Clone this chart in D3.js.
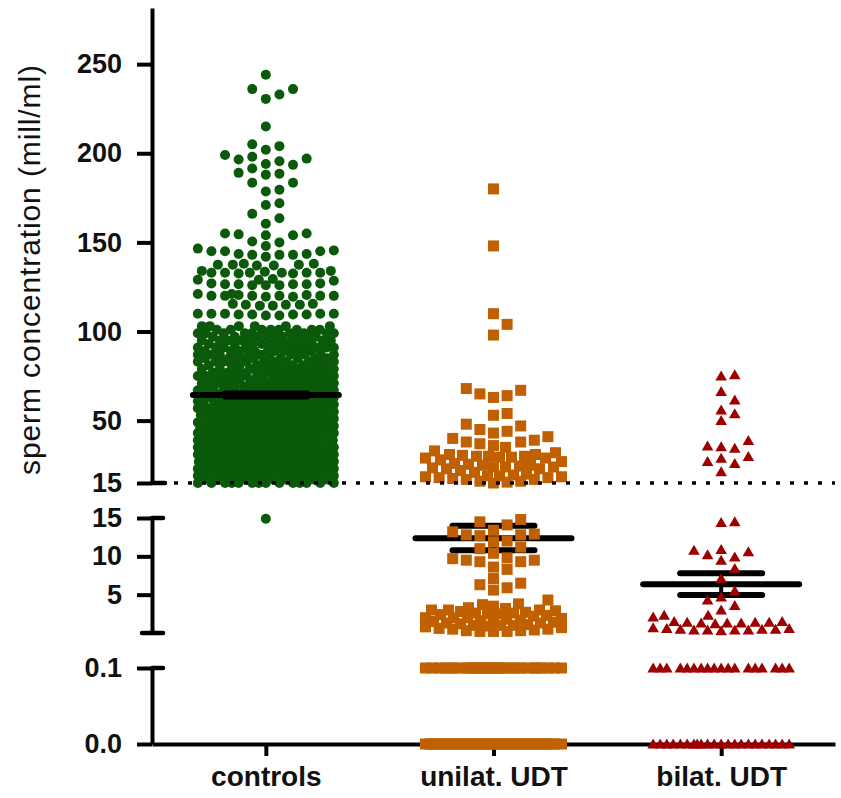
<!DOCTYPE html>
<html>
<head>
<meta charset="utf-8">
<script src="https://cdn.jsdelivr.net/npm/d3@7"></script>
<style>
  body { margin: 0; background: #fff; }
  svg { display: block; }
</style>
</head>
<body>
<svg id="chart" width="841" height="798"></svg>
<script>
var categories = ["controls", "unilat. UDT", "bilat. UDT"];
var colors = ["#0b5a0b", "#c06000", "#9e0000"];

var upperTicks = [15, 50, 100, 150, 200, 250];
var middleTicks = [5, 10, 15];
var lowerTicks = [0, 0.1];

// controls: single points in the sparse part
var controlsSparse = [244, 236, 236, 233, 230.5, 215, 205, 204, 202, 199, 198, 197, 196.5, 195.5,
  194, 193.5, 191.5, 189, 188.5, 188, 183.5, 183.5, 179.5, 178.5, 172, 171, 166, 163.5, 160.5,
  155, 155, 154.5, 154, 154, 150.5, 150, 148,
  146.5, 145.5, 145, 145, 145, 143.5, 143.5, 143, 143, 143, 142,
  138, 138, 137.5, 137.5, 137.5, 137, 137,
  134, 134, 133.5, 133, 133, 133, 133, 133, 133, 132.5, 132.5,
  129.5, 129, 129, 128.5,
  127, 127, 126.5, 126.5, 126.5, 126.5, 126, 126, 126,
  121, 121, 120.5, 120.5, 120, 120, 120, 120, 120, 120, 119.5, 119.5,
  115.5, 115.5, 115, 115, 115, 114.5, 114.5,
  110, 110, 110, 110, 110, 109.5, 109.5, 109.5, 109.5, 109, 109];
// controls: dense part, [value, count]
var controlsDense = [[15, 14], [17, 13], [19, 14], [21, 14], [23, 13], [25, 14], [27, 14], [29, 13],
  [31, 14], [33, 14], [35, 13], [37, 14], [39, 14], [41, 13], [43, 14], [45, 14], [47, 13], [49, 14],
  [51, 14], [53, 13], [55, 14], [57, 14], [59, 13], [61, 14], [63, 14],
  [65, 13], [67, 12], [69, 12], [71, 12], [73, 11], [75, 11], [77, 11], [79, 10], [81, 10], [83, 10],
  [85, 10], [87, 9], [89, 9], [91, 9], [93, 9], [95, 9], [97, 9], [99, 9], [101, 8], [103, 6]];
var controlsMiddle = [14.9];

var unilatUpper = [180, 148, 110, 104, 98, 68, 67, 65, 64, 63, 54, 53, 48, 47, 45, 44, 43, 41,
  40, 39, 38, 38, 37, 36, 35, 33, 32, 31, 31, 30.5, 30, 30, 30, 29.5, 29.5, 29, 29, 28, 27, 26,
  25.5, 25, 25, 24.5, 24, 24, 24, 23.5, 23, 23, 22, 21, 20, 19.5, 19, 19, 18.5, 18.5, 18, 18,
  17.5, 17, 17, 16, 16, 15.5, 15];
var unilatMiddle = [14.8, 14.5, 14.1, 13.4, 13.2, 12.9, 12.8, 12.8, 12.7, 12, 11.9, 11.2, 11,
  10.4, 9.8, 9.7, 9.5, 9.5, 9.3, 9.3, 8.6, 8.3, 7.1, 6.5, 6.3, 5.9, 5.6, 4.3,
  3.8, 3.7, 3.5, 3.3, 3.2, 3, 3, 3, 2.9, 2.8, 2.7, 2.6, 2.6, 2.5, 2.5, 2.4, 2.3, 2.2, 2, 2, 2,
  1.9, 1.8, 1.7, 1.6, 1.5, 1.5, 1.4, 1.3, 1.3, 1.2, 1.1, 1, 1, 1, 0.9, 0.8, 0.7, 0.6, 0.5, 0.5,
  0.4, 0.3, 0.3, 0.2, 0.2, 0.2];

var bilatUpper = [75.7, 75.1, 66.3, 61.6, 56, 53.8, 50, 38.8, 35.8, 35.4, 34.5, 29.8, 28.9, 27, 26, 21.3];
var bilatMiddle = [14.5, 14.4, 10.9, 10.8, 10.6, 10.2, 9.9, 9.5, 8.4, 7.1, 5.5, 4.7, 4.3, 3.6, 3.0,
  2.3, 2.3, 2.1, 1.5, 1.5, 1.4, 1.4, 1.4, 1.3, 1.3, 1.3, 1.2,
  0.7, 0.6, 0.6, 0.5, 0.5, 0.5, 0.4, 0.4, 0.4, 0.4, 0.3];

// number of samples at 0.1 and at 0.0, per group
var tenthCounts = [0, 30, 18];
var zeroCounts = [0, 40, 22];

// mean and SEM per group
var means = [64.4, 12.35, 6.35];
var semHigh = [65.2, 14.0, 7.8];
var semLow = [63.6, 10.8, 4.95];

var svg = d3.select("#chart");
var font = "'Liberation Sans', Arial, sans-serif";
var axisX = 152;

var x = d3.scalePoint().domain(categories).range([152, 835]).padding(0.5);
var yUpper = d3.scaleLinear().domain([15, 281.5]).range([483, 8]);
var yMiddle = d3.scaleLinear().domain([0, 15]).range([633, 518]);
var yLower = d3.scaleLinear().domain([0, 0.1]).range([744, 668]);

function yOf(v) {
  if (v >= 15) return yUpper(v);
  if (v > 0.1) return yMiddle(v);
  return yLower(v);
}

function expand(pairs) {
  var out = [];
  pairs.forEach(function (p) {
    for (var i = 0; i < p[1]; i++) out.push(p[0]);
  });
  return out;
}
function repeat(v, n) {
  var out = [];
  for (var i = 0; i < n; i++) out.push(v);
  return out;
}

var groupValues = [
  controlsSparse.concat(expand(controlsDense), controlsMiddle),
  unilatUpper.concat(unilatMiddle, repeat(0.1, tenthCounts[1]), repeat(0, zeroCounts[1])),
  bilatUpper.concat(bilatMiddle, repeat(0.1, tenthCounts[2]), repeat(0, zeroCounts[2]))
];

// column scatter: points go on a grid of columns, centre first;
// when every column is taken, squeeze into the widest gap
function swarm(values, cx, step, d) {
  var pts = values.map(function (v) { return { v: v, y: yOf(v) }; });
  pts.sort(function (a, b) { return b.y - a.y; });
  var cols = [0];
  for (var k = 1; k <= 5; k++) cols.push(k, -k);
  var maxOff = 5 * step;
  var placed = [];
  pts.forEach(function (p) {
    var near = [];
    for (var j = placed.length - 1; j >= 0; j--) {
      if (Math.abs(placed[j].y - p.y) < 2 * d) near.push(placed[j]);
    }
    var off = null;
    for (var i = 0; i < cols.length; i++) {
      var ox = cols[i] * step;
      var ok = near.every(function (q) {
        var dx = q.off - ox, dy = q.y - p.y;
        return dx * dx + dy * dy >= d * d;
      });
      if (ok) { off = ox; break; }
    }
    if (off === null) {
      var best = -1;
      off = 0;
      for (var ox2 = -maxOff; ox2 <= maxOff; ox2 += 1) {
        var m = Infinity;
        near.forEach(function (q) {
          var dx = q.off - ox2, dy = q.y - p.y;
          m = Math.min(m, dx * dx + dy * dy);
        });
        if (m > best + 1e-6 || (Math.abs(m - best) < 1e-6 && Math.abs(ox2) < Math.abs(off))) {
          best = m;
          off = ox2;
        }
      }
    }
    p.off = off;
    p.x = cx + off;
    placed.push(p);
  });
  return placed;
}

function drawMeans(i) {
  var cx = x(categories[i]);
  var g = svg.append("g").attr("stroke", "#000").attr("stroke-linecap", "round");
  g.append("line")
    .attr("x1", cx).attr("x2", cx)
    .attr("y1", yOf(semHigh[i])).attr("y2", yOf(semLow[i]))
    .attr("stroke-width", 4);
  [semHigh[i], semLow[i]].forEach(function (v) {
    g.append("line")
      .attr("x1", cx - 41).attr("x2", cx + 41)
      .attr("y1", yOf(v)).attr("y2", yOf(v))
      .attr("stroke-width", 6);
  });
  g.append("line")
    .attr("x1", cx - (i == 0 ? 73 : 78)).attr("x2", cx + (i == 0 ? 73 : 78))
    .attr("y1", yOf(means[i])).attr("y2", yOf(means[i]))
    .attr("stroke-width", 6);
}

// y axis, three pieces
function drawAxis(scale, ticks, fmt) {
  var g = svg.append("g")
    .attr("transform", "translate(" + axisX + ",0)")
    .call(d3.axisLeft(scale).tickValues(ticks).tickFormat(fmt)
      .tickSize(15).tickSizeOuter(0).tickPadding(15));
  g.attr("font-family", font).attr("font-size", 27).attr("font-weight", "bold");
  g.select(".domain").attr("stroke-width", 4);
  g.selectAll(".tick line").attr("stroke-width", 4);
  g.selectAll(".tick text").attr("fill", "#111");
  return g;
}
drawAxis(yUpper, upperTicks, d3.format("d"));
drawAxis(yMiddle, middleTicks, d3.format("d"));
drawAxis(yLower, lowerTicks, d3.format(".1f"));

// caps at the break ends
var caps = [[yUpper(15), 152, 165], [yMiddle(15), 152, 163], [yLower(0.1), 152, 163], [yMiddle(0), 142, 163]];
caps.forEach(function (c) {
  svg.append("line")
    .attr("x1", c[1]).attr("x2", c[2])
    .attr("y1", c[0]).attr("y2", c[0])
    .attr("stroke", "#000")
    .attr("stroke-width", 4.5)
    .attr("stroke-linecap", "round");
});

// x axis (under the points)
var gx = svg.append("g")
  .attr("transform", "translate(0," + yLower(0) + ")")
  .call(d3.axisBottom(x).tickSize(12).tickSizeOuter(0).tickPadding(10));
gx.attr("font-family", font).attr("font-size", 28).attr("font-weight", "bold");
gx.select(".domain").attr("stroke-width", 4);
gx.selectAll(".tick line").attr("stroke-width", 4);
gx.selectAll(".tick text").attr("fill", "#111");

// controls: circles, mean drawn on top
var ctl = swarm(groupValues[0], x(categories[0]), 13.6, 10.5);
svg.append("g").selectAll("circle")
  .data(ctl)
  .join("circle")
  .attr("cx", function (d) { return d.x; })
  .attr("cy", function (d) { return d.y; })
  .attr("r", 5)
  .attr("fill", colors[0]);
drawMeans(0);

// unilateral: squares over the mean lines
drawMeans(1);
var uni = swarm(groupValues[1], x(categories[1]), 13.6, 11.5);
svg.append("g").selectAll("rect")
  .data(uni)
  .join("rect")
  .attr("x", function (d) { return d.x - 5.5; })
  .attr("y", function (d) { return d.y - 5.5; })
  .attr("width", 11)
  .attr("height", 11)
  .attr("fill", colors[1]);

// bilateral: triangles
drawMeans(2);
var bil = swarm(groupValues[2], x(categories[2]), 13.6, 10.5);
svg.append("g").selectAll("path")
  .data(bil)
  .join("path")
  .attr("d", "M0,-5.5L5.8,4.5L-5.8,4.5Z")
  .attr("transform", function (d) { return "translate(" + d.x + "," + d.y + ")"; })
  .attr("fill", colors[2]);

// dotted break line at 15
svg.append("line")
  .attr("x1", 160).attr("x2", 835)
  .attr("y1", yUpper(15)).attr("y2", yUpper(15))
  .attr("stroke", "#000")
  .attr("stroke-width", 3.5)
  .attr("stroke-dasharray", "4,10");

// y label
svg.append("text")
  .attr("transform", "translate(40,270) rotate(-90)")
  .attr("text-anchor", "middle")
  .attr("font-family", font)
  .attr("font-size", 30)
  .attr("textLength", 410)
  .attr("fill", "#111")
  .text("sperm concentration (mill/ml)");
</script>
</body>
</html>
